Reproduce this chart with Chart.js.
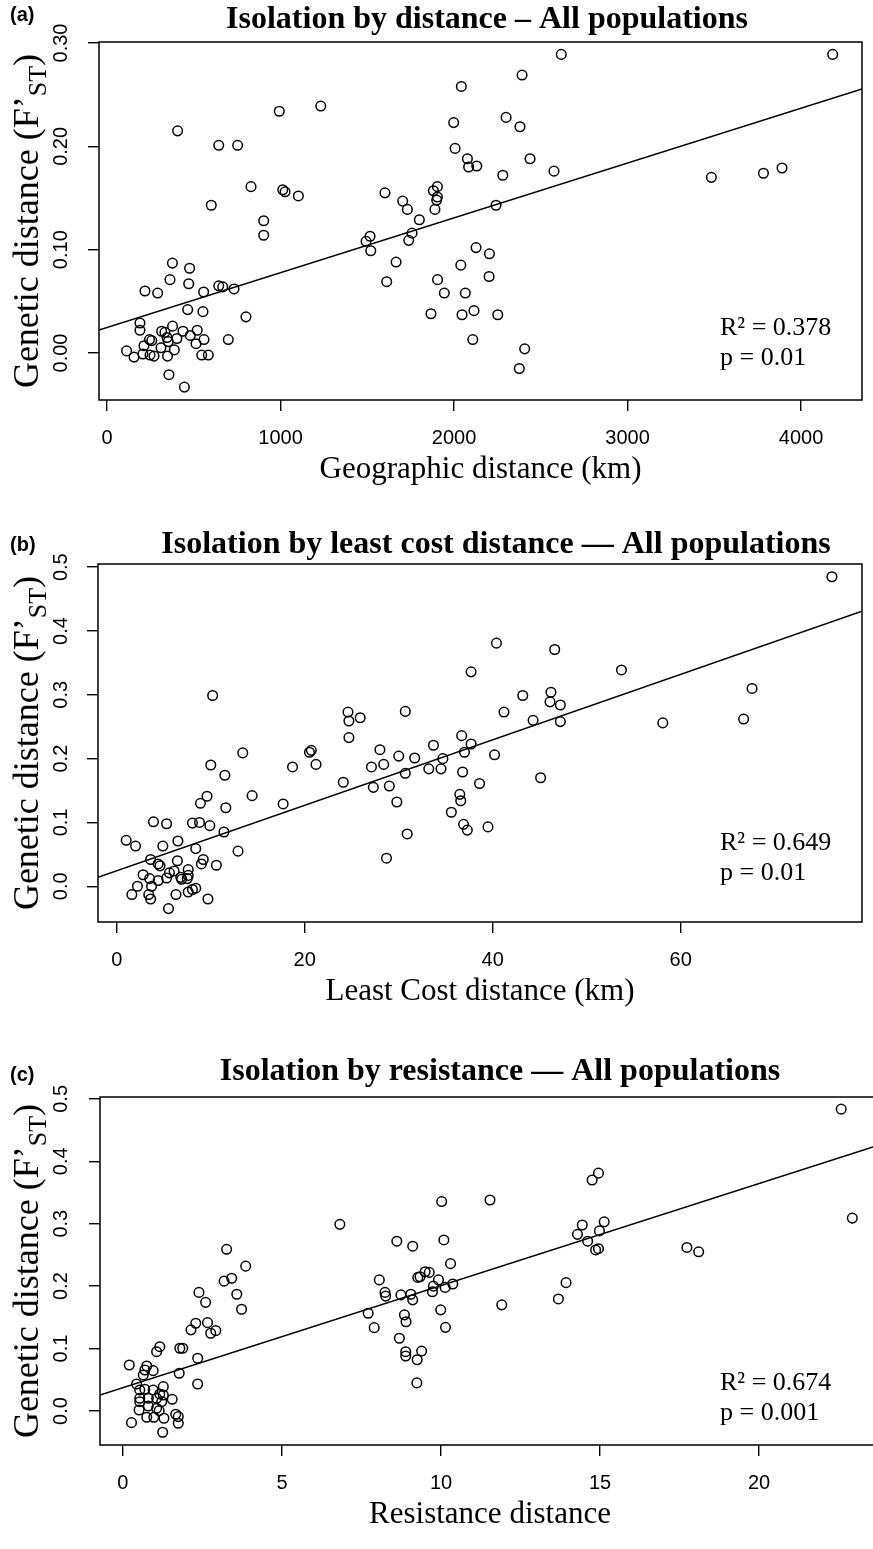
<!DOCTYPE html>
<html>
<head>
<meta charset="utf-8">
<title>Isolation by distance / least cost / resistance</title>
<script src="https://cdn.jsdelivr.net/npm/chart.js@4.4.1/dist/chart.umd.min.js"></script>
<style>
  html, body { margin: 0; padding: 0; background: #fff; overflow: hidden; }
  .panel { position: absolute; left: 0; }
</style>
</head>
<body>
<div class="panel" style="top:0px"><canvas id="chartA" width="873" height="500"></canvas></div>
<div class="panel" style="top:500px"><canvas id="chartB" width="873" height="525"></canvas></div>
<div class="panel" style="top:1025px"><canvas id="chartC" width="900" height="524"></canvas></div>

<script>
// ---- Panel (a): geographic distance (km) vs F'ST ----
const geoDist = [113, 156, 190, 190, 207, 213, 219, 245, 258, 248, 271, 292, 311, 315, 334, 346, 349, 353, 357, 363,
  377, 378, 388, 403, 407, 438, 446, 465, 471, 476, 480, 513, 520, 546, 553, 557, 559, 584, 601, 644,
  644, 667, 699, 732, 753, 801, 830, 903, 903, 993, 1013, 1026, 1103, 1232, 1493, 1516, 1520, 1602, 1612, 1666,
  1704, 1731, 1739, 1758, 1800, 1867, 1881, 1904, 1904, 1900, 1890, 1905, 1944, 2618, 4182, 2392, 2042, 2300, 1998, 2380,
  2006, 2077, 2084, 2131, 2438, 2576, 2281, 3483, 3783, 3890, 2242, 2127, 2204, 2039, 2065, 2202, 2046, 2115, 2252, 2108,
  2407, 2376];
const fstGeo = [0.002, -0.004, 0.029, 0.022, -0.001, 0.007, 0.060, 0.013, 0.012, -0.002, -0.003, 0.058, 0.005, 0.021, 0.020, 0.015, -0.003, 0.011, -0.021, 0.071,
  0.087, 0.026, 0.003, 0.014, 0.215, 0.021, -0.033, 0.042, 0.067, 0.082, 0.017, 0.009, 0.022, -0.002, 0.040, 0.059, 0.013, -0.002, 0.143, 0.201,
  0.065, 0.064, 0.013, 0.062, 0.201, 0.035, 0.161, 0.128, 0.114, 0.234, 0.158, 0.156, 0.152, 0.239, 0.108, 0.113, 0.099, 0.155, 0.069, 0.088,
  0.147, 0.139, 0.109, 0.116, 0.129, 0.038, 0.157, 0.161, 0.151, 0.148, 0.139, 0.071, 0.058, 0.289, 0.289, 0.269, 0.258, 0.228, 0.223, 0.219,
  0.198, 0.188, 0.180, 0.181, 0.188, 0.176, 0.172, 0.170, 0.174, 0.179, 0.143, 0.102, 0.096, 0.085, 0.058, 0.074, 0.037, 0.041, 0.037, 0.013,
  0.004, -0.015];
const geoFitX = [-46, 4351];
const geoFitY = [0.0223, 0.2556];
const geoRangeX = [-46, 4351];
const geoRangeY = [-0.0455, 0.301];
const geoTicksX = [0, 1000, 2000, 3000, 4000];
const geoTicksY = [0, 0.1, 0.2, 0.3];

// ---- Panel (b): least cost distance (km) vs F'ST ----
const lcDist = [76.1, 40.4, 46.6, 37.7, 53.7, 67.6, 43.2, 46.2, 46.1, 47.2, 41.2, 44.3, 47.2, 58.1, 66.7, 36.7, 37.7, 37.0, 36.8, 40.2,
  38.6, 45.1, 36.5, 36.6, 35.6, 36.9, 37.3, 39.5, 10.2, 24.6, 24.7, 25.9, 24.7, 30.7, 13.4, 20.5, 20.7, 21.2, 18.7, 10.0,
  11.5, 28.0, 27.1, 28.4, 30.0, 31.7, 33.7, 33.2, 34.5, 34.7, 30.7, 24.1, 27.3, 29.0, 29.8, 30.9, 28.7, 17.7, 14.4, 9.6,
  8.9, 11.6, 8.05, 8.8, 9.9, 11.4, 12.9, 3.9, 5.3, 1.0, 2.0, 4.9, 6.5, 8.4, 3.6, 4.4, 4.6, 6.45, 9.2, 9.0,
  10.6, 2.8, 3.5, 2.2, 1.6, 3.4, 3.6, 3.7, 4.4, 5.3, 5.6, 6.1, 6.8, 6.9, 7.6, 7.6, 7.5, 6.3, 7.6, 8.05,
  8.4, 9.7, 5.5];
const fstLc = [0.485, 0.381, 0.371, 0.336, 0.339, 0.310, 0.299, 0.304, 0.289, 0.284, 0.273, 0.260, 0.258, 0.256, 0.262, 0.236, 0.223, 0.210, 0.179, 0.206,
  0.161, 0.170, 0.144, 0.134, 0.116, 0.097, 0.088, 0.093, 0.299, 0.273, 0.259, 0.264, 0.233, 0.274, 0.209, 0.210, 0.213, 0.191, 0.187, 0.190,
  0.174, 0.214, 0.187, 0.191, 0.204, 0.201, 0.221, 0.184, 0.184, 0.200, 0.177, 0.163, 0.155, 0.157, 0.132, 0.082, 0.044, 0.129, 0.142, 0.141,
  0.130, 0.123, 0.099, 0.100, 0.095, 0.085, 0.055, 0.101, 0.098, 0.072, 0.063, 0.063, 0.071, 0.059, 0.042, 0.035, 0.032, 0.040, 0.042, 0.035,
  0.033, 0.018, 0.012, 0.000, -0.013, -0.013, -0.020, 0.000, 0.009, 0.013, 0.021, 0.024, 0.014, 0.011, 0.026, 0.017, 0.012, -0.013, -0.009, -0.005,
  -0.003, -0.020, -0.035];
const lcFitX = [-2.0, 79.3];
const lcFitY = [0.0141, 0.431];
const lcRangeX = [-2.0, 79.3];
const lcRangeY = [-0.056, 0.505];
const lcTicksX = [0, 20, 40, 60];
const lcTicksY = [0, 0.1, 0.2, 0.3, 0.4, 0.5];

// ---- Panel (c): resistance distance vs F'ST ----
const resDist = [22.58, 14.95, 14.75, 10.02, 11.54, 22.93, 14.44, 14.29, 15.13, 14.98, 14.61, 14.86, 14.95, 10.09, 17.73, 18.1, 10.3, 9.5, 9.63, 9.34,
  9.92, 9.76, 10.13, 10.37, 9.73, 9.99, 10.14, 11.91, 13.69, 13.93, 9.39, 9.25, 9.24, 8.61, 9.11, 8.06, 8.24, 8.26, 8.74, 9.05,
  9.11, 9.27, 7.71, 7.9, 8.85, 8.9, 8.69, 8.89, 8.89, 6.82, 3.26, 3.86, 3.18, 3.42, 3.58, 3.73, 2.39, 2.6, 2.29, 2.14,
  2.66, 2.76, 2.92, 1.79, 1.88, 2.35, 2.35, 1.77, 1.16, 1.06, 0.2, 0.75, 0.69, 0.95, 0.64, 0.43, 0.53, 0.69, 1.27, 0.53,
  0.53, 0.8, 0.95, 1.06, 1.16, 1.22, 1.27, 1.55, 0.51, 0.8, 1.06, 1.14, 0.27, 0.75, 0.97, 1.29, 1.66, 1.74, 1.74, 1.25];
const fstRes = [0.4835, 0.381, 0.370, 0.3355, 0.338, 0.309, 0.298, 0.283, 0.303, 0.2885, 0.272, 0.258, 0.260, 0.274, 0.262, 0.255, 0.236, 0.223, 0.222, 0.215,
  0.210, 0.200, 0.198, 0.2035, 0.191, 0.162, 0.134, 0.170, 0.1795, 0.2056, 0.096, 0.082, 0.045, 0.272, 0.264, 0.210, 0.190, 0.184, 0.186, 0.187,
  0.178, 0.214, 0.1565, 0.1335, 0.154, 0.143, 0.1165, 0.095, 0.088, 0.299, 0.259, 0.232, 0.208, 0.2126, 0.187, 0.163, 0.190, 0.174, 0.1405, 0.130,
  0.1415, 0.1245, 0.1287, 0.1005, 0.1005, 0.0845, 0.0433, 0.0604, 0.103, 0.095, 0.0737, 0.072, 0.0657, 0.0646, 0.0577, 0.0433, 0.0337, 0.0348, 0.039, 0.0203,
  0.0149, 0.0203, 0.0337, 0.0203, 0.0272, 0.015, 0.0256, 0.0187, 0.0016, 0.008, 0.0043, 0.0005, -0.0187, -0.0101, -0.0101, -0.0117, -0.0053, -0.009, -0.0197, -0.034];
const resFitX = [-0.72, 23.8];
const resFitY = [0.0256, 0.4266];
const resRangeX = [-0.72, 23.8];
const resRangeY = [-0.0545, 0.503];
const resTicksX = [0, 5, 10, 15, 20];
const resTicksY = [0, 0.1, 0.2, 0.3, 0.4, 0.5];

const serif = '"Liberation Serif", "Times New Roman", serif';
const sans = '"Liberation Sans", Arial, sans-serif';

function toPoints(xs, ys) {
  return xs.map((x, i) => ({ x: x, y: ys[i] }));
}

// R-style decorations: full box, rotated y labels, titles, stats text
function panelDecor(p) {
  return {
    id: 'panelDecor',
    afterDraw(chart) {
      const { ctx, chartArea: a, scales: { y } } = chart;
      ctx.save();
      ctx.strokeStyle = '#000';
      ctx.lineWidth = 1.5;
      ctx.strokeRect(a.left, a.top, a.right - a.left, a.bottom - a.top);

      ctx.fillStyle = '#000';
      ctx.font = '20px ' + sans;
      ctx.textAlign = 'center';
      ctx.textBaseline = 'middle';
      p.yTicks.forEach(v => {
        ctx.save();
        ctx.translate(61, y.getPixelForValue(v));
        ctx.rotate(-Math.PI / 2);
        ctx.fillText(v.toFixed(p.yDecimals), 0, 0);
        ctx.restore();
      });

      // y axis title with subscript
      ctx.save();
      ctx.translate(26, (a.top + a.bottom) / 2);
      ctx.rotate(-Math.PI / 2);
      const main = 'Genetic distance (F\u2019';
      ctx.font = '36px ' + serif;
      const w1 = ctx.measureText(main).width;
      const w3 = ctx.measureText(')').width;
      ctx.font = '26px ' + serif;
      const w2 = ctx.measureText('ST').width;
      let x0 = -(w1 + w2 + w3) / 2;
      ctx.textAlign = 'left';
      ctx.textBaseline = 'alphabetic';
      ctx.font = '36px ' + serif;
      ctx.fillText(main, x0, 12);
      ctx.font = '26px ' + serif;
      ctx.fillText('ST', x0 + w1, 20);
      ctx.font = '36px ' + serif;
      ctx.fillText(')', x0 + w1 + w2, 12);
      ctx.restore();

      // x axis title
      ctx.textAlign = 'center';
      ctx.textBaseline = 'alphabetic';
      ctx.font = '31px ' + serif;
      ctx.fillText(p.xTitle, (a.left + a.right) / 2, a.bottom + 78);

      // main title and panel letter
      ctx.font = 'bold 32px ' + serif;
      ctx.textBaseline = 'middle';
      ctx.fillText(p.title, p.titleX, p.titleY);
      ctx.font = 'bold 20px ' + sans;
      ctx.textAlign = 'left';
      ctx.fillText(p.letter, 10, p.letterY);

      // R2 and p value
      ctx.font = '26px ' + serif;
      ctx.fillText(p.stats[0], 720, a.bottom - p.statsOffset);
      ctx.fillText(p.stats[1], 720, a.bottom - p.statsOffset + 30);
      ctx.restore();
    }
  };
}

function createPanel(canvasId, p) {
  const ctx = document.getElementById(canvasId);
  if (!ctx) return null;
  const canvasH = ctx.height;

  return new Chart(ctx, {
    type: 'scatter',
    data: {
      datasets: [
        {
          data: toPoints(p.x, p.y),
          pointRadius: 4.8,
          pointHoverRadius: 4.8,
          borderWidth: 1.5,
          borderColor: '#000',
          backgroundColor: 'rgba(0,0,0,0)'
        },
        {
          data: toPoints(p.fitX, p.fitY),
          showLine: true,
          pointRadius: 0,
          borderColor: '#000',
          borderWidth: 1.5,
          fill: false
        }
      ]
    },
    options: {
      responsive: false,
      animation: false,
      devicePixelRatio: 1,
      events: [],
      layout: { padding: { top: p.top, right: p.right, left: 0, bottom: 0 } },
      plugins: { legend: { display: false }, tooltip: { enabled: false } },
      scales: {
        x: {
          type: 'linear',
          min: p.rangeX[0],
          max: p.rangeX[1],
          afterBuildTicks: s => { s.ticks = p.xTicks.map(v => ({ value: v })); },
          afterFit: s => { s.height = canvasH - p.bottom; },
          grid: { display: true, drawOnChartArea: false, drawTicks: true, tickLength: 11, color: '#000', lineWidth: 1.4 },
          border: { display: false },
          ticks: {
            color: '#000',
            font: { family: 'Liberation Sans', size: 20 },
            padding: 15,
            maxRotation: 0,
            autoSkip: false,
            callback: v => String(v)
          }
        },
        y: {
          type: 'linear',
          min: p.rangeY[0],
          max: p.rangeY[1],
          afterBuildTicks: s => { s.ticks = p.yTicks.map(v => ({ value: v })); },
          afterFit: s => { s.width = p.left; },
          grid: { display: true, drawOnChartArea: false, drawTicks: true, tickLength: 11, color: '#000', lineWidth: 1.4 },
          border: { display: false },
          ticks: { display: false }
        }
      }
    },
    plugins: [panelDecor(p)]
  });
}

createPanel('chartA', {
  x: geoDist, y: fstGeo, fitX: geoFitX, fitY: geoFitY,
  rangeX: geoRangeX, rangeY: geoRangeY, xTicks: geoTicksX, yTicks: geoTicksY, yDecimals: 2,
  left: 99, right: 11, top: 42, bottom: 400,
  title: 'Isolation by distance \u2013 All populations', titleX: 487, titleY: 20,
  letter: '(a)', letterY: 15,
  xTitle: 'Geographic distance (km)',
  stats: ['R\u00b2 = 0.378', 'p = 0.01'], statsOffset: 72
});

createPanel('chartB', {
  x: lcDist, y: fstLc, fitX: lcFitX, fitY: lcFitY,
  rangeX: lcRangeX, rangeY: lcRangeY, xTicks: lcTicksX, yTicks: lcTicksY, yDecimals: 1,
  left: 98, right: 11, top: 64, bottom: 422,
  title: 'Isolation by least cost distance \u2014 All populations', titleX: 496, titleY: 45,
  letter: '(b)', letterY: 45,
  xTitle: 'Least Cost distance (km)',
  stats: ['R\u00b2 = 0.649', 'p = 0.01'], statsOffset: 79
});

createPanel('chartC', {
  x: resDist, y: fstRes, fitX: resFitX, fitY: resFitY,
  rangeX: resRangeX, rangeY: resRangeY, xTicks: resTicksX, yTicks: resTicksY, yDecimals: 1,
  left: 100, right: 20, top: 72, bottom: 420,
  title: 'Isolation by resistance \u2014 All populations', titleX: 500, titleY: 47,
  letter: '(c)', letterY: 50,
  xTitle: 'Resistance distance',
  stats: ['R\u00b2 = 0.674', 'p = 0.001'], statsOffset: 62
});
</script>
</body>
</html>
